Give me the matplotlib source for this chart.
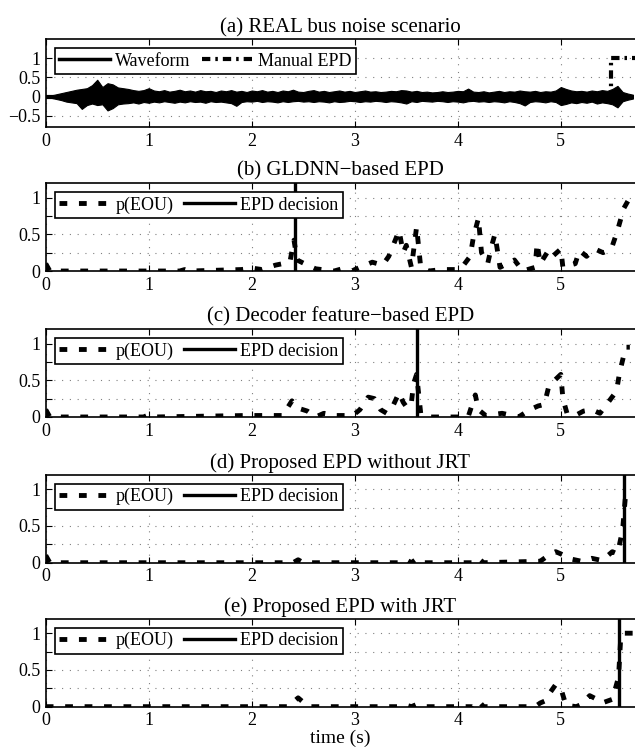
import numpy as np
import matplotlib
matplotlib.use("Agg")
import matplotlib.pyplot as plt
from matplotlib.lines import Line2D

plt.rcParams['font.family'] = ['Liberation Serif', 'DejaVu Serif']
plt.rcParams['font.size'] = 13

# ---- (a) waveform envelope, read every 0.05 s ----
wave_upper = [0.0, 0.03, 0.06, 0.09, 0.12, 0.15, 0.18, 0.20, 0.22, 0.30,
              0.44, 0.25, 0.35, 0.32, 0.24, 0.22, 0.20, 0.17, 0.15, 0.17,
              0.22, 0.16, 0.14, 0.17, 0.13, 0.15, 0.18, 0.14, 0.16, 0.13,
              0.17, 0.14, 0.15, 0.12, 0.16, 0.14, 0.17, 0.13, 0.15, 0.12,
              0.16, 0.14, 0.17, 0.13, 0.15, 0.12, 0.16, 0.14, 0.18, 0.13,
              0.12, 0.15, 0.17, 0.13, 0.15, 0.12, 0.14, 0.16, 0.13, 0.15,
              0.12, 0.14, 0.16, 0.13, 0.14, 0.12, 0.13, 0.15, 0.14, 0.17,
              0.16, 0.13, 0.15, 0.12, 0.13, 0.11, 0.12, 0.14, 0.12, 0.13,
              0.15, 0.14, 0.21, 0.13, 0.12, 0.14, 0.11, 0.13, 0.15, 0.12,
              0.14, 0.13, 0.16, 0.14, 0.13, 0.15, 0.12, 0.14, 0.13, 0.16,
              0.25, 0.20, 0.16, 0.14, 0.15, 0.13, 0.16, 0.14, 0.17, 0.15,
              0.20, 0.28, 0.12, 0.08, 0.05]
wave_lower = [0.0, -0.03, -0.06, -0.09, -0.13, -0.15, -0.17, -0.32, -0.22, -0.18,
              -0.22, -0.20, -0.36, -0.30, -0.20, -0.18, -0.17, -0.15, -0.18, -0.14,
              -0.16, -0.13, -0.15, -0.12, -0.14, -0.16, -0.13, -0.15, -0.12, -0.14,
              -0.13, -0.16, -0.12, -0.14, -0.13, -0.15, -0.17, -0.24, -0.14, -0.12,
              -0.13, -0.11, -0.14, -0.12, -0.13, -0.15, -0.12, -0.14, -0.12, -0.11,
              -0.13, -0.12, -0.14, -0.12, -0.13, -0.15, -0.12, -0.14, -0.13, -0.11,
              -0.12, -0.14, -0.12, -0.13, -0.11, -0.12, -0.14, -0.12, -0.13, -0.15,
              -0.18, -0.12, -0.14, -0.11, -0.12, -0.13, -0.11, -0.12, -0.14, -0.12,
              -0.13, -0.15, -0.12, -0.11, -0.13, -0.12, -0.14, -0.12, -0.13, -0.15,
              -0.12, -0.14, -0.17, -0.23, -0.14, -0.12, -0.13, -0.15, -0.12, -0.14,
              -0.22, -0.19, -0.15, -0.17, -0.14, -0.16, -0.13, -0.18, -0.15, -0.17,
              -0.20, -0.28, -0.12, -0.08, -0.05]
WAVE_STEP = 0.05
manual_t = [0.0, 5.49, 5.49, 5.72]
manual_v = [0.0, 0.0, 1.0, 1.0]

# ---- (b) GLDNN-based EPD ----
b_t = [0.0, 0.04, 1.30, 1.35, 1.40, 1.90, 2.00, 2.10, 2.23, 2.37, 2.41, 2.44, 2.54,
       2.62, 2.80, 2.90, 2.97, 3.05, 3.17, 3.27, 3.33, 3.43, 3.47, 3.50, 3.55,
       3.60, 3.64, 3.72, 3.84, 4.00, 4.04, 4.12, 4.15, 4.20, 4.23, 4.29, 4.33,
       4.36, 4.41, 4.55, 4.63, 4.75, 4.77, 4.80, 4.88, 4.92, 5.00, 5.02, 5.14,
       5.18, 5.25, 5.33, 5.41, 5.49, 5.55, 5.61, 5.67, 5.72]
b_p = [0.10, 0.0, 0.0, 0.02, 0.0, 0.02, 0.04, 0.02, 0.08, 0.12, 0.42, 0.15, 0.08,
       0.03, 0.0, 0.04, 0.0, 0.05, 0.12, 0.08, 0.20, 0.55, 0.25, 0.35, 0.05,
       0.60, 0.05, 0.0, 0.02, 0.02, 0.05, 0.20, 0.45, 0.72, 0.25, 0.10, 0.35,
       0.50, 0.05, 0.15, 0.0, 0.05, 0.38, 0.10, 0.28, 0.20, 0.30, 0.05, 0.10,
       0.28, 0.20, 0.30, 0.25, 0.30, 0.55, 0.85, 1.0, 1.0]
b_dec = 2.42

# ---- (c) Decoder feature-based EPD ----
c_t = [0.0, 0.04, 0.95, 1.00, 1.05, 1.95, 2.10, 2.30, 2.39, 2.45, 2.54, 2.62, 2.70,
       2.82, 2.98, 3.05, 3.13, 3.19, 3.25, 3.31, 3.37, 3.43, 3.47, 3.51, 3.55,
       3.57, 3.60, 3.64, 3.70, 4.10, 4.17, 4.20, 4.27, 4.43, 4.59, 4.70, 4.78,
       4.84, 4.88, 4.94, 5.00, 5.02, 5.06, 5.14, 5.22, 5.30, 5.38, 5.46, 5.54,
       5.57, 5.63, 5.67]
c_p = [0.10, 0.0, 0.0, 0.03, 0.0, 0.02, 0.02, 0.02, 0.22, 0.12, 0.08, 0.0, 0.05,
       0.02, 0.02, 0.10, 0.27, 0.25, 0.10, 0.05, 0.15, 0.33, 0.20, 0.12, 0.20,
       0.45, 0.58, 0.05, 0.0, 0.0, 0.30, 0.10, 0.02, 0.05, 0.0, 0.10, 0.15,
       0.17, 0.40, 0.50, 0.58, 0.25, 0.05, 0.02, 0.08, 0.10, 0.05, 0.20, 0.35,
       0.60, 0.95, 0.95]
c_dec = 3.60

# ---- (d) Proposed EPD without JRT ----
d_t = [0.0, 0.04, 2.40, 2.45, 2.50, 3.45, 3.50, 3.55, 3.60, 3.65, 4.15, 4.20, 4.25,
       4.80, 4.90, 4.95, 5.00, 5.10, 5.20, 5.30, 5.40, 5.50, 5.55, 5.60, 5.63, 5.67]
d_p = [0.10, 0.0, 0.0, 0.04, 0.0, 0.0, 0.04, 0.0, 0.05, 0.0, 0.0, 0.06, 0.0,
       0.02, 0.12, 0.15, 0.12, 0.05, 0.02, 0.06, 0.03, 0.15, 0.12, 0.45, 0.95, 1.0]
d_dec = 5.61

# ---- (e) Proposed EPD with JRT ----
e_t = [0.0, 2.35, 2.45, 2.55, 3.45, 3.50, 3.55, 3.60, 3.65, 4.15, 4.20, 4.25,
       4.75, 4.80, 4.85, 4.90, 4.95, 5.00, 5.05, 5.15, 5.20, 5.28, 5.35, 5.40,
       5.50, 5.56, 5.58, 5.60, 5.72]
e_p = [0.0, 0.0, 0.12, 0.0, 0.0, 0.02, 0.0, 0.03, 0.0, 0.0, 0.08, 0.0,
       0.0, 0.05, 0.08, 0.20, 0.30, 0.25, 0.02, 0.0, 0.03, 0.15, 0.10, 0.05,
       0.10, 0.40, 0.90, 1.0, 1.0]
e_dec = 5.56

titles = ['(a) REAL bus noise scenario',
          '(b) GLDNN\u2212based EPD',
          '(c) Decoder feature\u2212based EPD',
          '(d) Proposed EPD without JRT',
          '(e) Proposed EPD with JRT']

XMAX = 5.72
DASH = (0, (1.6, 2.4))
DASHDOT = (0, (2.0, 1.2, 0.6, 1.2))
grid_kw = dict(color='0.5', linestyle=(0, (1, 6)), linewidth=0.8)


def style_axes(ax, title):
    ax.set_xlim(0, XMAX)
    ax.set_xticks([0, 1, 2, 3, 4, 5])
    ax.set_xticklabels(['0', '1', '2', '3', '4', '5'])
    ax.tick_params(direction='in', top=True, right=False, length=4, width=0.8,
                   labelsize=13, pad=4)
    ax.spines['right'].set_visible(False)
    for s in ['left', 'top', 'bottom']:
        ax.spines[s].set_linewidth(1.2)
    ax.grid(True, **grid_kw)
    ax.set_axisbelow(True)
    ax.set_title(title, fontsize=15, pad=5)


def legend_box(ax, handles, labels):
    leg = ax.legend(handles, labels, loc='upper left', ncol=2, fancybox=False,
                    framealpha=1, edgecolor='black', fontsize=13,
                    handlelength=2.8, columnspacing=0.6, handletextpad=0.3,
                    borderpad=0.25, borderaxespad=0.5)
    leg.get_frame().set_linewidth(1.2)


fig = plt.figure(figsize=(6.35, 7.47), dpi=100)
left, width, height = 0.072, 1.0 - 0.072, 0.118
bottoms = [0.8296, 0.6372, 0.4418, 0.2467, 0.054]

# panel (a)
ax = fig.add_axes([left, bottoms[0], width, height])
wave_t = np.arange(len(wave_upper)) * WAVE_STEP
ax.fill_between(wave_t, wave_lower, wave_upper, color='black', linewidth=0.8)
ax.plot(manual_t, manual_v, color='black', lw=3, linestyle=DASHDOT)
ax.set_ylim(-0.8, 1.5)
ax.set_yticks([-0.5, 0, 0.5, 1])
ax.set_yticklabels(['\u22120.5', '0', '0.5', '1'])
style_axes(ax, titles[0])
legend_box(ax, [Line2D([], [], color='black', lw=2.5),
                Line2D([], [], color='black', lw=3, linestyle=DASHDOT)],
           ['Waveform', 'Manual EPD'])

# panels (b)-(e)
series = [(b_t, b_p, b_dec), (c_t, c_p, c_dec), (d_t, d_p, d_dec), (e_t, e_p, e_dec)]
for i, (t, p, dec) in enumerate(series):
    ax = fig.add_axes([left, bottoms[i + 1], width, height])
    ax.plot(t, p, color='black', lw=3.5, linestyle=DASH)
    ax.axvline(dec, color='black', lw=2.4)
    ax.set_ylim(0, 1.2)
    ax.set_yticks([0, 0.25, 0.5, 0.75, 1])
    ax.set_yticklabels(['0', '', '0.5', '', '1'])
    style_axes(ax, titles[i + 1])
    legend_box(ax, [Line2D([], [], color='black', lw=3.5, linestyle=DASH),
                    Line2D([], [], color='black', lw=2.4)],
               ['p(EOU)', 'EPD decision'])
    if i == 3:
        ax.set_xlabel('time (s)', fontsize=14, labelpad=0)

fig.savefig('out.png', dpi=100)
